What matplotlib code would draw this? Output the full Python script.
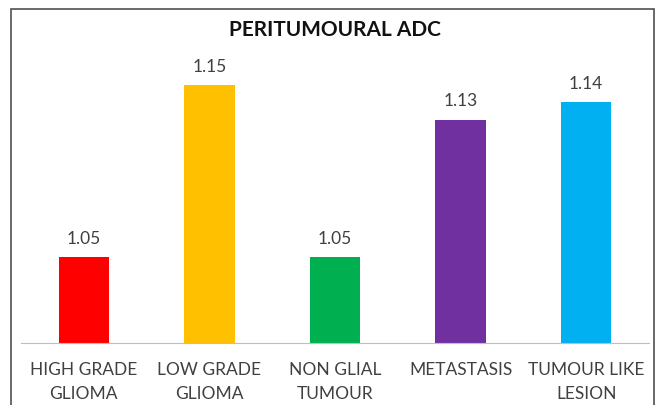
import matplotlib.pyplot as plt
from matplotlib.patches import Rectangle

categories = ["HIGH GRADE\nGLIOMA", "LOW GRADE\nGLIOMA", "NON GLIAL\nTUMOUR",
              "METASTASIS", "TUMOUR LIKE\nLESION"]
values = [1.05, 1.15, 1.05, 1.13, 1.14]
colors = ["#FF0000", "#FFC000", "#00B050", "#7030A0", "#00B0F0"]

plt.rcParams['font.family'] = ['Lato', 'DejaVu Sans']

fig = plt.figure(figsize=(6.6, 4.05), dpi=100)
# chart frame
fig.patches.append(Rectangle((11/660, -0.1), 643/660, 1.1 - 9/405, transform=fig.transFigure,
                             fill=False, edgecolor="#505050", linewidth=1.2))

ax = fig.add_axes([21/660, 1 - 343/405, 628/660, 275/405])
x = range(len(values))
bars = ax.bar(x, values, width=0.4, color=colors, bottom=0)
ax.set_ylim(1.0, 1.16)
ax.set_xlim(-0.5, len(values) - 0.5)

for xi, v in zip(x, values):
    ax.text(xi, v + 0.006, f"{v:.2f}", ha="center", va="bottom", fontsize=12.5, color="#404040")

ax.set_xticks(list(x))
ax.set_xticklabels(categories, fontsize=12.5, color="#404040", linespacing=1.6)
ax.tick_params(axis="x", length=0, pad=14)
ax.set_yticks([])
for s in ["top", "right", "left"]:
    ax.spines[s].set_visible(False)
ax.spines["bottom"].set_color("#BFBFBF")

fig.text(335/660, 1 - 30/405, "PERITUMOURAL ADC", ha="center", va="center",
         fontsize=15, fontweight="bold", color="#111111")

fig.savefig("out.png", dpi=100)
